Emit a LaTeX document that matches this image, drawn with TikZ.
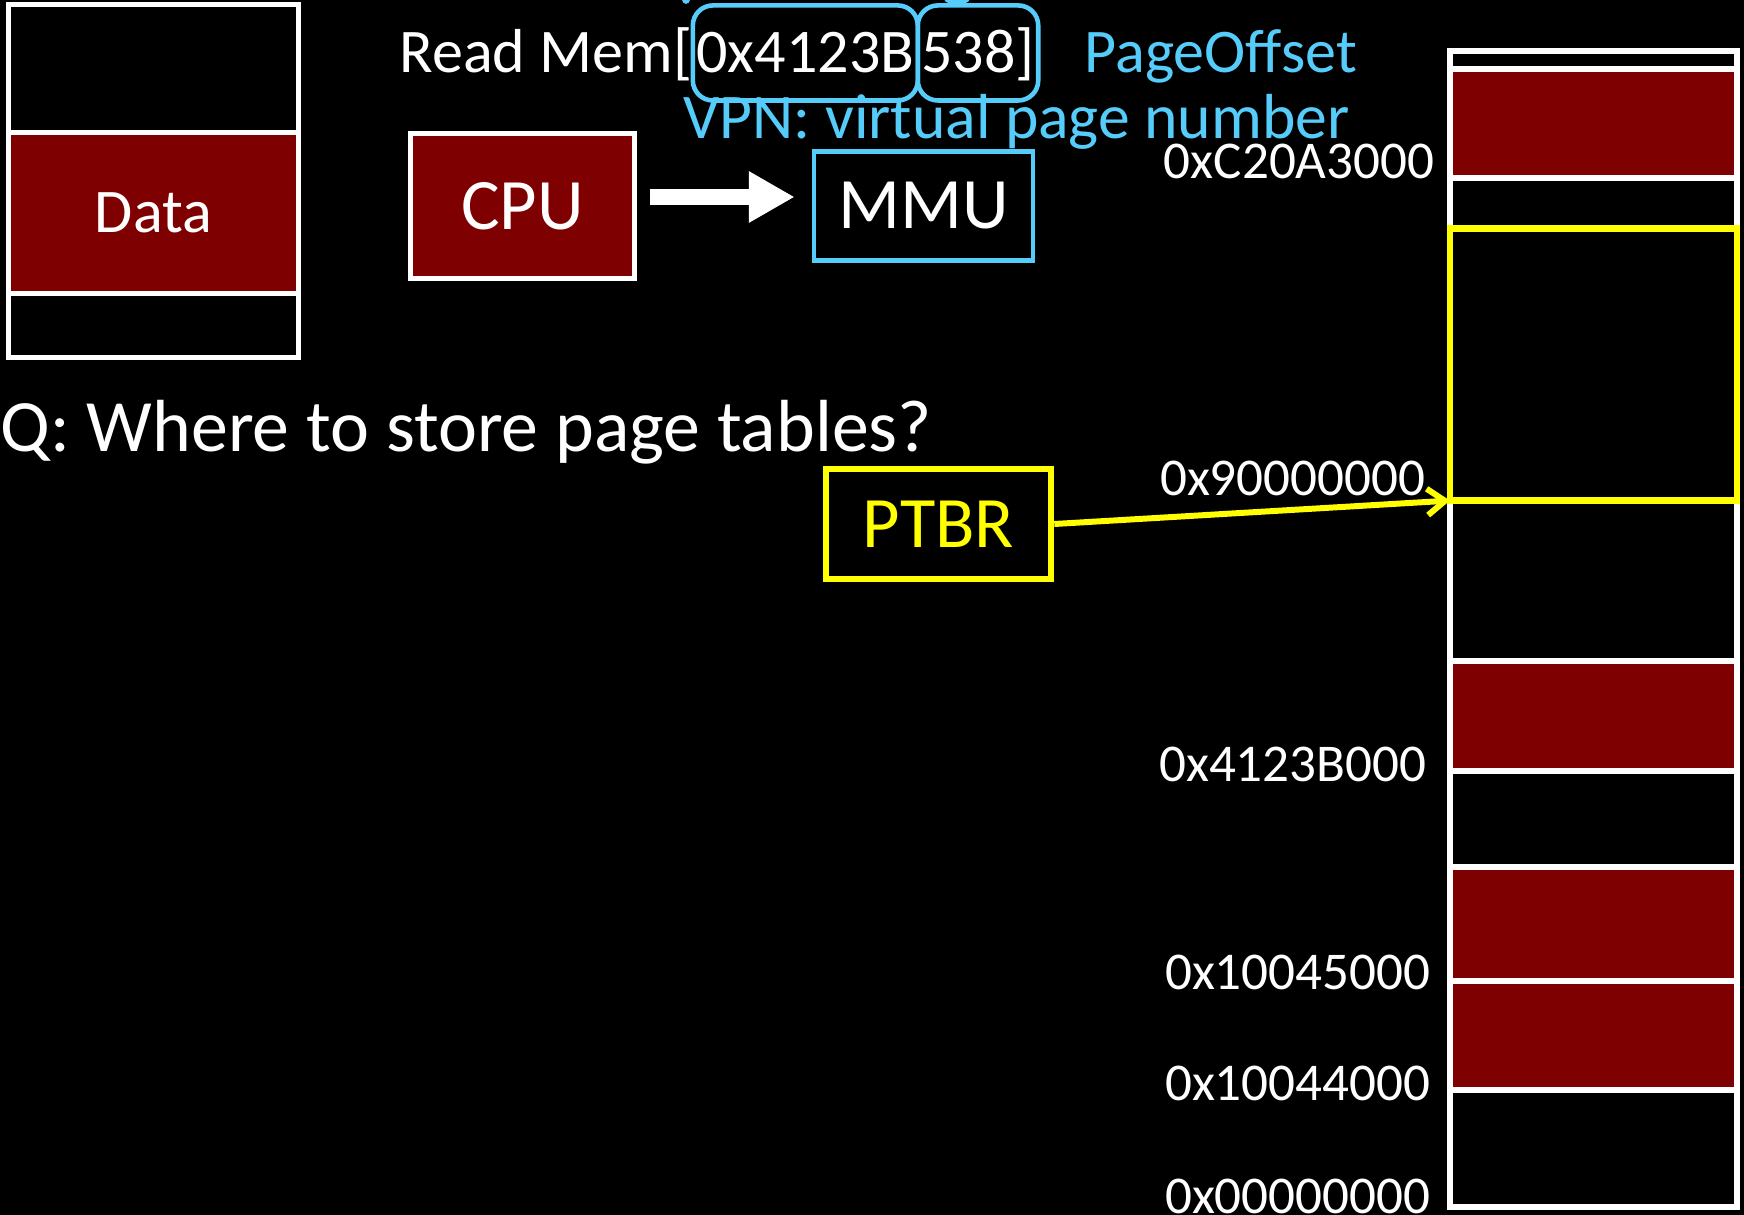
\documentclass[tikz,border=0pt]{standalone}
\usepackage{fontspec}
\setmainfont{Carlito}
\usetikzlibrary{arrows.meta,calc}
\definecolor{memred}{RGB}{127,0,0}
\definecolor{skyc}{RGB}{85,204,250}
\definecolor{ptyel}{RGB}{255,255,0}
\newcommand\fntmid{\fontsize{17.65pt}{20pt}\selectfont}
\newcommand\fntvpn{\fontsize{18.1pt}{21pt}\selectfont}
\newcommand\fntbig{\fontsize{20.6pt}{24pt}\selectfont}
\newcommand\fntq{\fontsize{21pt}{24pt}\selectfont}
\newcommand\fntaddr{\fontsize{15.1pt}{18pt}\selectfont}
\begin{document}
\begin{tikzpicture}[x=0.01cm,y=-0.01cm,
  wline/.style={draw=white, line width=1.7pt},
  plain/.style={inner sep=0pt, anchor=base west},
  addrbox/.style={draw=skyc, line width=1.3pt, rounded corners=5.7pt,
    inner xsep=1pt, inner ysep=0pt, text height=11.4pt, text depth=0pt,
    minimum height=0.95cm, outer sep=0pt, text=white, anchor=base west},
  addrlbl/.style={inner sep=0pt, anchor=base east, text=white, font=\fntaddr},
  redbox/.style={draw=white, fill=memred, text=white},
]
\fill[black] (0,0) rectangle (1744,1215);
\useasboundingbox (0,0) rectangle (1744,1215);

% virtual memory (left)
\node[draw=white, line width=1.42pt, minimum width=2.89cm, minimum height=3.52cm] (vmem) at (153.5,181) {};
\node[redbox, line width=1.42pt, minimum width=2.89cm, minimum height=1.6cm, font=\fntmid] (data) at (153.5,213) {Data};

% CPU / MMU
\node[redbox, line width=1.42pt, minimum width=2.23cm, minimum height=1.44cm, font=\fntbig] (cpu) at (522.5,206) {CPU};
\node[draw=skyc, line width=1.3pt, minimum width=2.19cm, minimum height=1.09cm, text=white, font=\fntbig] (mmu) at (923.5,206) {MMU};
\draw[white, line width=4.55pt, -{Triangle[length=13pt,width=13.7pt]}]
  ($(cpu.east)+(13,-9)$) -- ($(mmu.west)+(-17,-9)$);

% Read Mem line
\node[plain, text=white, font=\fntmid] (rdm) at (399,73) {Read Mem[};
\node[addrbox, font=\fntmid] (vpnb) at (rdm.base east) {0x4123B};
\node[addrbox, font=\fntmid] (offb) at (vpnb.base east) {538]};
\node[plain, text=skyc, font=\fntmid] (poff) at (1084,73) {PageOffset};
\node[plain, text=skyc, font=\fntvpn] (vpnl) at (683,139) {VPN: virtual page number};
\fill[skyc] (686,0) circle[radius=1.1pt];
\fill[skyc] (957,0) ellipse[x radius=3.5pt, y radius=1.2pt];

% question
\node[plain, text=white, font=\fntq] (q) at (0,451) {Q: Where to store page tables?};

% physical memory (right)
\fill[memred] (1449,69) rectangle (1737,178);
\fill[memred] (1449,662) rectangle (1737,771);
\fill[memred] (1449,867) rectangle (1737,1090);
\draw[wline] (1450,51) rectangle (1737,1207);
\foreach \yy in {69,178,661,771,867,981,1090}
  \draw[wline] (1450,\yy) -- (1737,\yy);
\node[draw=ptyel, line width=1.85pt, outer sep=0pt, minimum width=2.87cm, minimum height=2.72cm] (ptab) at (1593.5,364.5) {};

% PTBR
\node[draw=ptyel, line width=1.85pt, minimum width=2.25cm, minimum height=1.1cm, text=ptyel, font=\fntbig] (ptbr) at (938.5,524) {PTBR};
\draw[ptyel, line width=1.7pt, -{Straight Barb[length=5pt,width=7.5pt]}] (ptbr.east) -- (ptab.south west);

% addresses
\node[addrlbl] (aC2) at (1435,178) {0xC20A3000};
\node[addrlbl] (a90) at (1426,495) {0x90000000};
\node[addrlbl] (a41) at (1427,781) {0x4123B000};
\node[addrlbl] (a45) at (1431,989) {0x10045000};
\node[addrlbl] (a44) at (1431,1100) {0x10044000};
\node[addrlbl] (a00) at (1431,1213) {0x00000000};
\end{tikzpicture}
\end{document}
